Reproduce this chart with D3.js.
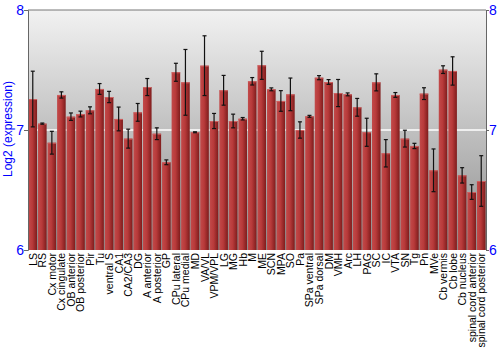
<!DOCTYPE html>
<html>
<head>
<meta charset="utf-8">
<script src="https://cdn.jsdelivr.net/npm/d3@7"></script>
<style>
  body { margin: 0; background: #fff; }
  text { font-family: "Liberation Sans", Arial, sans-serif; }
</style>
</head>
<body>
<div id="chart"></div>
<script>
// regions (x axis)
var regions = ["LS", "RS", "Cx motor", "Cx cingulate", "OB anterior", "OB posterior", "Pir", "Tu",
  "ventral S", "CA1", "CA2/CA3", "DG", "A anterior", "A posterior", "GP", "CPu lateral", "CPu medial",
  "MD", "VA/VL", "VPM/VPL", "LG", "MG", "Hb", "M", "ME", "SCN", "MPA", "SO", "Pa", "SPa ventral",
  "SPa dorsal", "DM", "VMH", "Arc", "LH", "PAG", "SC", "IC", "VTA", "SN", "Tg", "Pn", "MVe",
  "Cb vermis", "Cb lobe", "Cb nucleus", "spinal cord anterior", "spinal cord posterior"];

// mean log2 expression
var means = [7.258, 7.053, 6.894, 7.292, 7.111, 7.133, 7.164, 7.342,
  7.275, 7.092, 6.928, 7.147, 7.358, 6.969, 6.731, 7.481, 7.397,
  6.981, 7.536, 7.075, 7.331, 7.075, 7.094, 7.406, 7.539, 7.339, 7.242, 7.297, 7.0, 7.114,
  7.436, 7.400, 7.308, 7.297, 7.189, 6.981, 7.397, 6.806, 7.292, 6.928, 6.867, 7.303, 6.664,
  7.503, 7.492, 6.622, 6.483, 6.575];

// error (half height of bar)
var errs = [0.232, 0.005, 0.095, 0.026, 0.031, 0.024, 0.029, 0.045,
  0.047, 0.099, 0.079, 0.074, 0.071, 0.049, 0.020, 0.075, 0.274,
  0.004, 0.249, 0.063, 0.124, 0.057, 0.010, 0.031, 0.117, 0.012, 0.086, 0.136, 0.068, 0.008,
  0.017, 0.020, 0.113, 0.012, 0.074, 0.117, 0.071, 0.114, 0.020, 0.070, 0.022, 0.049, 0.178,
  0.032, 0.118, 0.064, 0.061, 0.211];

var yTicks = [6, 7, 8];
var yLabel = "Log2 (expression)";

var width = 500, height = 350;
var margin = {top: 10, right: 14, bottom: 100, left: 28};
var _width = width - margin.left - margin.right,
    _height = height - margin.top - margin.bottom;

var svg = d3.select("#chart")
  .append("svg")
  .attr("width", width)
  .attr("height", height);

var defs = svg.append("defs");

// background gradient
var bg = defs.append("linearGradient")
  .attr("id", "bg").attr("x1", 0).attr("y1", 0).attr("x2", 0).attr("y2", 1);
bg.append("stop").attr("offset", "0%").attr("stop-color", "#f2f2f2");
bg.append("stop").attr("offset", "100%").attr("stop-color", "#8e8e8e");

// bar gradient
var bg2 = defs.append("linearGradient")
  .attr("id", "bar").attr("x1", 0).attr("y1", 0).attr("x2", 1).attr("y2", 0);
bg2.append("stop").attr("offset", "0%").attr("stop-color", "#c24a4a");
bg2.append("stop").attr("offset", "45%").attr("stop-color", "#b83a3a");
bg2.append("stop").attr("offset", "100%").attr("stop-color", "#7e1c1c");

var g = svg.append("g")
  .attr("transform", "translate(" + margin.left + "," + margin.top + ")");

var xScale = d3.scaleBand()
  .domain(regions)
  .range([0, _width])
  .paddingInner(0.1)
  .paddingOuter(0.05);

var yScale = d3.scaleLinear()
  .domain([6, 8])
  .range([_height, 0]);

g.append("rect")
  .attr("width", _width)
  .attr("height", _height)
  .attr("fill", "url(#bg)");

// gridline at 7
g.append("line")
  .attr("x1", 0).attr("x2", _width)
  .attr("y1", yScale(7)).attr("y2", yScale(7))
  .attr("stroke", "#ffffff")
  .attr("stroke-width", 1.5);

// top border
g.append("line")
  .attr("x1", 0).attr("x2", _width)
  .attr("y1", 0).attr("y2", 0)
  .attr("stroke", "#777");

// bars
g.selectAll("rect.bar")
  .data(regions)
  .enter().append("rect")
  .attr("class", "bar")
  .attr("x", function(d) { return xScale(d); })
  .attr("width", xScale.bandwidth())
  .attr("y", function(d, i) { return yScale(means[i]); })
  .attr("height", function(d, i) { return _height - yScale(means[i]); })
  .attr("fill", "url(#bar)");

// light top edge of bars
g.selectAll("line.topedge")
  .data(regions)
  .enter().append("line")
  .attr("x1", function(d) { return xScale(d); })
  .attr("x2", function(d) { return xScale(d) + xScale.bandwidth(); })
  .attr("y1", function(d, i) { return yScale(means[i]) + 0.5; })
  .attr("y2", function(d, i) { return yScale(means[i]) + 0.5; })
  .attr("stroke", "#d06060");

// error bars
var eb = g.selectAll("g.err")
  .data(regions)
  .enter().append("g")
  .attr("class", "err")
  .attr("stroke", "#111")
  .attr("stroke-width", 1.2);

eb.append("line")
  .attr("x1", function(d) { return xScale(d) + xScale.bandwidth() / 2; })
  .attr("x2", function(d) { return xScale(d) + xScale.bandwidth() / 2; })
  .attr("y1", function(d, i) { return yScale(means[i] + errs[i]); })
  .attr("y2", function(d, i) { return yScale(means[i] - errs[i]); });

[1, -1].forEach(function(s) {
  eb.append("line")
    .attr("x1", function(d) { return xScale(d) + xScale.bandwidth() / 2 - 2; })
    .attr("x2", function(d) { return xScale(d) + xScale.bandwidth() / 2 + 2; })
    .attr("y1", function(d, i) { return yScale(means[i] + s * errs[i]); })
    .attr("y2", function(d, i) { return yScale(means[i] + s * errs[i]); });
});

// left axis
var yl = g.append("g")
  .call(d3.axisLeft(yScale).tickValues(yTicks).tickFormat(d3.format("d")).tickSize(4));
yl.select(".domain").attr("stroke", "#666");
yl.selectAll(".tick line").attr("stroke", "#666");
yl.selectAll(".tick text").attr("fill", "#0000ff").attr("font-size", 14).attr("x", -4);

// right axis
var yr = g.append("g")
  .attr("transform", "translate(" + _width + ",0)")
  .call(d3.axisRight(yScale).tickValues(yTicks).tickFormat(d3.format("d")).tickSize(3));
yr.select(".domain").attr("stroke", "#666");
yr.selectAll(".tick line").attr("stroke", "#666");
yr.selectAll(".tick text").attr("fill", "#0000ff").attr("font-size", 14).attr("x", 3);

// x labels
g.append("g")
  .attr("transform", "translate(0," + _height + ")")
  .selectAll("text")
  .data(regions)
  .enter().append("text")
  .attr("transform", function(d) {
    return "translate(" + (xScale(d) + xScale.bandwidth() / 2 + 4) + ",3) rotate(-90)";
  })
  .attr("text-anchor", "end")
  .attr("font-size", 10.5)
  .attr("fill", "#000")
  .text(function(d) { return d; });

// y label
svg.append("text")
  .attr("transform", "translate(12," + (margin.top + _height / 2 - 1) + ") rotate(-90)")
  .attr("text-anchor", "middle")
  .attr("font-size", 12)
  .attr("fill", "#0000ff")
  .text(yLabel);
</script>
</body>
</html>
